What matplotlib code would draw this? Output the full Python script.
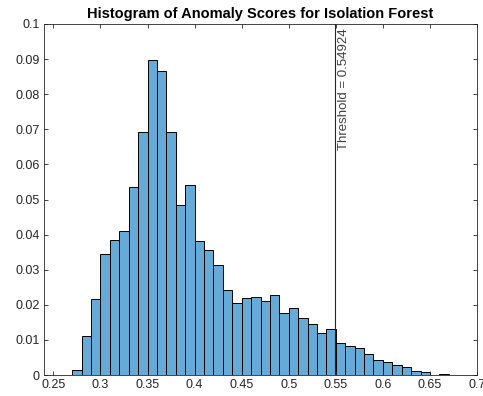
import matplotlib
matplotlib.use("Agg")
import matplotlib.pyplot as plt
import numpy as np

plt.rcParams['font.family'] = ['Liberation Sans', 'DejaVu Sans']

# Data (normalized probability per bin, width 0.01)
bin_start = 0.27
bin_width = 0.01
probabilities = [0.0014, 0.0111, 0.0217, 0.0345, 0.0385, 0.0409, 0.0537, 0.0693,
                 0.0898, 0.0867, 0.0693, 0.0483, 0.0540, 0.0383, 0.0356, 0.0312,
                 0.0243, 0.0204, 0.0219, 0.0222, 0.0211, 0.0228, 0.0176, 0.0190,
                 0.0161, 0.0146, 0.0120, 0.0132, 0.0090, 0.0084, 0.0076, 0.0061,
                 0.0044, 0.0038, 0.0029, 0.0023, 0.0011, 0.0008, 0.0, 0.0003]
threshold = 0.54924
x_ticks = [0.25, 0.3, 0.35, 0.4, 0.45, 0.5, 0.55, 0.6, 0.65, 0.7]
x_tick_labels = ['0.25', '0.3', '0.35', '0.4', '0.45', '0.5', '0.55', '0.6', '0.65', '0.7']
y_ticks = [0, 0.01, 0.02, 0.03, 0.04, 0.05, 0.06, 0.07, 0.08, 0.09, 0.1]
y_tick_labels = ['0', '0.01', '0.02', '0.03', '0.04', '0.05', '0.06', '0.07', '0.08', '0.09', '0.1']
title = 'Histogram of Anomaly Scores for Isolation Forest'

fig = plt.figure(figsize=(4.83, 3.96), dpi=100)
ax = fig.add_axes([44/483, 21/396, (477-44)/483, (375-24)/396])

lefts = bin_start + bin_width * np.arange(len(probabilities))
ax.bar(lefts, probabilities, width=bin_width, align='edge',
       color=(0.40, 0.668, 0.845), edgecolor='black', linewidth=0.7)

ax.axvline(threshold, color='#262626', linewidth=0.8)
ax.text(threshold + 0.003, 0.0988, 'Threshold = %g' % threshold, rotation=90,
        ha='left', va='top', fontsize=9.5, color='#404040')

ax.set_xlim(0.24, 0.7)
ax.set_ylim(0, 0.1)
ax.set_xticks(x_ticks)
ax.set_xticklabels(x_tick_labels)
ax.set_yticks(y_ticks)
ax.set_yticklabels(y_tick_labels)
ax.tick_params(direction='in', length=3, width=0.6, colors='#262626',
               labelsize=9, top=True, right=True, pad=3)
for lbl in ax.get_xticklabels() + ax.get_yticklabels():
    lbl.set_color('#262626')
for s in ax.spines.values():
    s.set_color('#262626')
    s.set_linewidth(0.6)

ax.set_title(title, fontsize=10.5, fontweight='bold', pad=4)

fig.savefig('out.png', dpi=100)
